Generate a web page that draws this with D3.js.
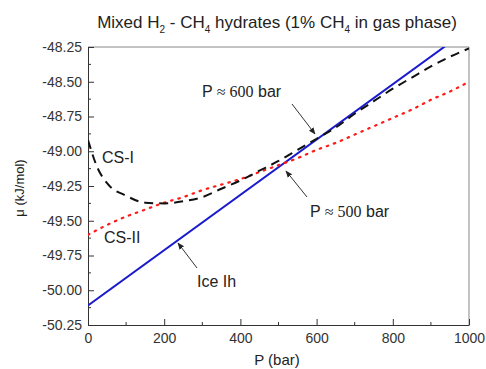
<!DOCTYPE html>
<html><head><meta charset="utf-8">
<script src="https://cdn.jsdelivr.net/npm/d3@7"></script>
<style>body{margin:0;background:#fff}text{font-family:"Liberation Sans",Arial,sans-serif}</style>
</head><body><svg id="c" width="486" height="369"></svg>
<script>
const pressure = [0,25,50,100,150,200,250,300,350,400,450,500,550,600,650,700,750,800,850,900,950,1000];
const csI =  [-48.92,-49.12,-49.23,-49.32,-49.37,-49.375,-49.36,-49.33,-49.27,-49.21,-49.14,-49.07,-48.99,-48.91,-48.83,-48.73,-48.64,-48.55,-48.47,-48.39,-48.32,-48.26];
const csII = [-49.60,-49.565,-49.53,-49.47,-49.42,-49.37,-49.33,-49.28,-49.24,-49.20,-49.15,-49.10,-49.05,-48.99,-48.94,-48.88,-48.82,-48.76,-48.70,-48.63,-48.57,-48.50];
const icePressure = [0,1000];
const iceIh = [-50.11,-48.12];
const xTicks = [0,200,400,600,800,1000];
const yTicks = [-48.25,-48.50,-48.75,-49.00,-49.25,-49.50,-49.75,-50.00,-50.25];

const svg = d3.select("#c");
const L=88,R=469,T=47,B=325;
const x = d3.scaleLinear().domain([0,1000]).range([L,R]);
const y = d3.scaleLinear().domain([-50.25,-48.25]).range([B,T]);

svg.append("defs").append("clipPath").attr("id","clip").append("rect")
  .attr("x",L).attr("y",T).attr("width",R-L).attr("height",B-T);

// frame
svg.append("line").attr("x1",L).attr("x2",R).attr("y1",T).attr("y2",T).attr("stroke","#888");
svg.append("line").attr("x1",R).attr("x2",R).attr("y1",T).attr("y2",B).attr("stroke","#888");

// axes
const xa = svg.append("g").attr("transform",`translate(0,${B})`)
  .call(d3.axisBottom(x).tickValues(xTicks).tickSizeInner(-6).tickSizeOuter(0).tickPadding(8).tickFormat(d3.format("d")));
const ya = svg.append("g").attr("transform",`translate(${L},0)`)
  .call(d3.axisLeft(y).tickValues(yTicks).tickSizeInner(-6).tickSizeOuter(0).tickPadding(6).tickFormat(d=>d.toFixed(2)));
[xa,ya].forEach(a=>{a.selectAll("text").attr("font-size",14).attr("fill","#333").style("font-family","Liberation Sans, Arial, sans-serif");
  a.select(".domain").attr("stroke","#333");a.selectAll(".tick line").attr("stroke","#333");});
// minor ticks
const xm = d3.range(100,1000,200);
svg.append("g").selectAll("line").data(xm).join("line")
  .attr("x1",d=>x(d)).attr("x2",d=>x(d)).attr("y1",B).attr("y2",B-3).attr("stroke","#333");
const ym = d3.range(-50.125,-48.25,0.25);
svg.append("g").selectAll("line").data(ym).join("line")
  .attr("x1",L).attr("x2",L+3).attr("y1",d=>y(d)).attr("y2",d=>y(d)).attr("stroke","#333");

const line = d3.line().x(d=>x(d[0])).y(d=>y(d[1])).curve(d3.curveMonotoneX);
const g = svg.append("g").attr("clip-path","url(#clip)");
g.append("path").datum(icePressure.map((p,i)=>[p,iceIh[i]])).attr("d",d3.line().x(d=>x(d[0])).y(d=>y(d[1])))
  .attr("fill","none").attr("stroke","#1a1acc").attr("stroke-width",2);
g.append("path").datum(pressure.map((p,i)=>[p,csII[i]])).attr("d",line)
  .attr("fill","none").attr("stroke","#ff1a1a").attr("stroke-width",2.2).attr("stroke-dasharray","1.5,6").attr("stroke-linecap","round");
g.append("path").datum(pressure.map((p,i)=>[p,csI[i]])).attr("d",line)
  .attr("fill","none").attr("stroke","#111").attr("stroke-width",2).attr("stroke-dasharray","9,6");

// title
const t = svg.append("text").attr("x",277).attr("y",28).attr("text-anchor","middle").attr("font-size",17).attr("fill","#222");
t.append("tspan").text("Mixed H");
t.append("tspan").text("2").attr("font-size",10).attr("dy",5);
t.append("tspan").text(" - CH").attr("dy",-5);
t.append("tspan").text("4").attr("font-size",10).attr("dy",5);
t.append("tspan").text(" hydrates (1% CH").attr("dy",-5);
t.append("tspan").text("4").attr("font-size",10).attr("dy",5);
t.append("tspan").text(" in gas phase)").attr("dy",-5);

svg.append("text").attr("x",277).attr("y",365).attr("text-anchor","middle").attr("font-size",15).attr("fill","#222").text("P (bar)");
svg.append("text").attr("transform","translate(24,188) rotate(-90)").attr("text-anchor","middle").attr("font-size",13).attr("fill","#222").text("μ (kJ/mol)");

// labels
function lab(xx,yy,parts){const e=svg.append("text").attr("x",xx).attr("y",yy).attr("font-size",16).attr("fill","#222");
  parts.forEach(p=>{const s=e.append("tspan").text(p[0]); if(p[1]) s.style("font-family","Liberation Serif, Times New Roman, serif");});}
lab(102,163,[["CS-I"]]);
lab(104,243,[["CS-II"]]);
lab(197,287,[["Ice Ih"]]);
lab(202,97,[["P "],["≈ 600",true],[" bar"]]);
lab(310,217,[["P "],["≈ 500",true],[" bar"]]);

// arrows
svg.append("defs").append("marker").attr("id","ah").attr("viewBox","0 0 10 10").attr("refX",9).attr("refY",5)
  .attr("markerWidth",7).attr("markerHeight",7).attr("orient","auto")
  .append("path").attr("d","M0,1 L10,5 L0,9 Z").attr("fill","#222");
function arrow(x1,y1,x2,y2){svg.append("line").attr("x1",x1).attr("y1",y1).attr("x2",x2).attr("y2",y2)
  .attr("stroke","#333").attr("stroke-width",1).attr("marker-end","url(#ah)");}
arrow(292,104,315,134);
arrow(307,197,286,171);
arrow(197,268,178,243);
</script></body></html>
